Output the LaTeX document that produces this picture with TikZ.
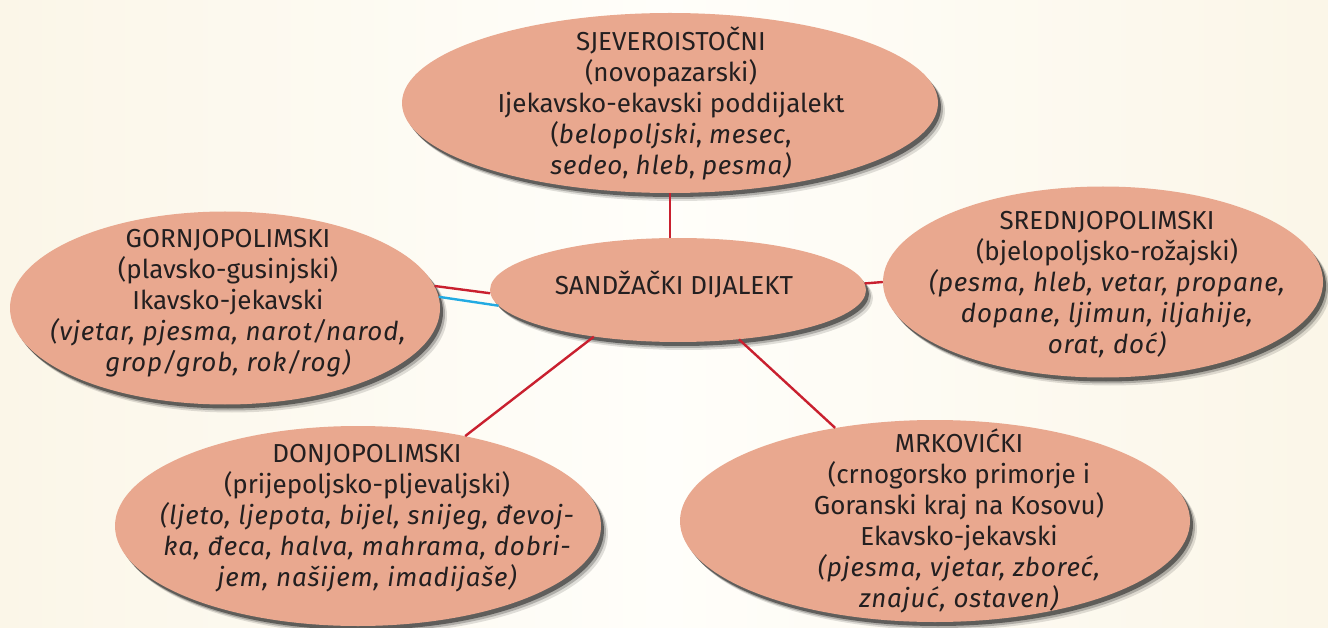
\documentclass[tikz,border=0pt]{standalone}
\usepackage{fontspec}
\setmainfont{Fira Sans}
\usetikzlibrary{shapes.geometric,shadows}
\definecolor{bgcream}{HTML}{FBF6E8}
\definecolor{bgwhite}{HTML}{FFFEFA}
\definecolor{salmon}{HTML}{E9A88F}
\definecolor{txt}{HTML}{231F20}
\definecolor{linkred}{HTML}{C9202F}
\definecolor{linkblue}{HTML}{22AAE2}
\newcommand\ital[1]{{\itshape\addfontfeatures{LetterSpace=3}#1}}
\tikzset{
  oval/.style={ellipse, fill=salmon, draw=none, inner sep=0pt,
    drop shadow={shadow xshift=7pt, shadow yshift=-8pt, opacity=0.12, fill=black},
    drop shadow={shadow xshift=5pt, shadow yshift=-6pt, opacity=0.22, fill=black},
    drop shadow={shadow xshift=3pt, shadow yshift=-4pt, opacity=0.45, fill=black}},
  label/.style={align=center, text=txt, font=\fontsize{26}{31}\selectfont, inner sep=0pt},
  link/.style={draw=linkred, line width=2.4pt},
  bluelink/.style={draw=linkblue, line width=2.4pt}
}
\begin{document}
\begin{tikzpicture}[x=1pt,y=-1pt]
\useasboundingbox (0,0) rectangle (1328,628);
\shade[left color=bgcream, right color=bgcream, middle color=bgwhite] (0,0) rectangle (1328,628);
% ovals
\node[oval, minimum width=536pt, minimum height=180pt] (t) at (670,103) {};
\node[oval, minimum width=430pt, minimum height=193pt] (l) at (225,308) {};
\node[oval, minimum width=440pt, minimum height=191pt] (r) at (1103,282) {};
\node[oval, minimum width=486pt, minimum height=200pt] (bl) at (358,526) {};
\node[oval, minimum width=510pt, minimum height=202pt] (br) at (935,521) {};
\node[oval, minimum width=376pt, minimum height=104pt] (c) at (678,290) {};
% connectors
\draw[link] (t.south) -- (t.south |- c.north);
\draw[link] (c.2) -- (r.west);
\draw[link] (l.6) -- (c.181);
\draw[bluelink] (l.3) -- (c.185);
\draw[link] (c.209) -- (bl.40);
\draw[link] (c.321) -- (br.137);
% texts
\node[label] (tt) at (671,103) {SJEVEROISTOČNI\\(novopazarski)\\Ijekavsko-ekavski poddijalekt\\(\ital{belopoljski}, \ital{mesec},\\\ital{sedeo}, \ital{hleb}, \ital{pesma)}};
\node[label] (lt) at (228,303) {GORNJOPOLIMSKI\\(plavsko-gusinjski)\\Ikavsko-jekavski\\\ital{(vjetar, pjesma, narot/narod,}\\\ital{grop/grob, rok/rog)}};
\node[label] (rt) at (1107,285) {SREDNJOPOLIMSKI\\(bjelopoljsko-rožajski)\\\ital{(pesma, hleb, vetar, propane,}\\\ital{dopane, ljimun, iljahije,}\\\ital{orat, doć)}};
\node[label] (blt) at (367,518) {DONJOPOLIMSKI\\(prijepoljsko-pljevaljski)\\\ital{(ljeto, ljepota, bijel, snijeg, đevoj-}\\\ital{ka, đeca, halva, mahrama, dobri-}\\\ital{jem, našijem, imadijaše)}};
\node[label] (brt) at (959,521) {MRKOVIĆKI\\(crnogorsko primorje i\\Goranski kraj na Kosovu)\\Ekavsko-jekavski\\\ital{(pjesma, vjetar, zboreć,}\\\ital{znajuć, ostaven)}};
\node[label] (ct) at (674,284) {SANDŽAČKI DIJALEKT};
\end{tikzpicture}
\end{document}
